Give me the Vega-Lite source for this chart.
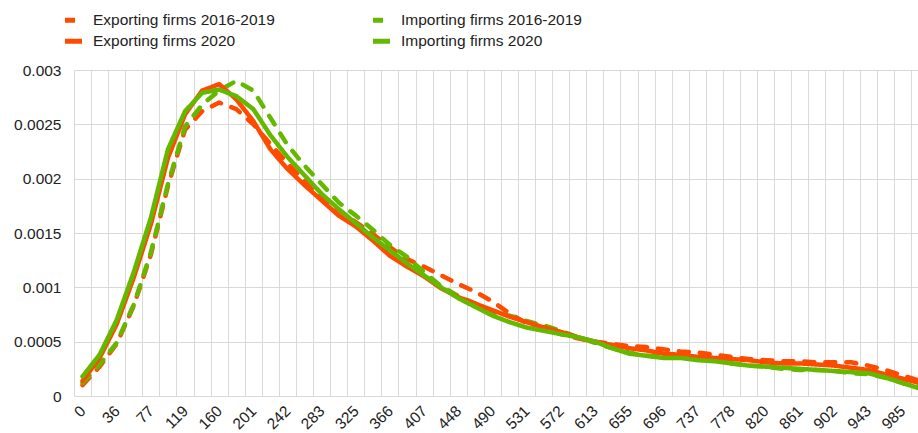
{
  "$schema": "https://vega.github.io/schema/vega-lite/v6.json",
  "autosize": "none",
  "padding": {"left": 74, "top": 70, "right": 0, "bottom": 37},
  "width": 844,
  "height": 326,
  "background": "white",
  "config": {
    "view": {"stroke": null},
    "font": "Liberation Sans",
    "axis": {"labelFont": "Liberation Sans", "labelColor": "#222222", "labelFontSize": 15.5}
  },
  "data": {
    "values": [
      {"k":0,"s":"Exporting firms 2016-2019","v":0.00010},{"k":0,"s":"Importing firms 2016-2019","v":0.00012},{"k":0,"s":"Exporting firms 2020","v":0.00014},{"k":0,"s":"Importing firms 2020","v":0.00018},
      {"k":1,"s":"Exporting firms 2016-2019","v":0.00027},{"k":1,"s":"Importing firms 2016-2019","v":0.00029},{"k":1,"s":"Exporting firms 2020","v":0.00035},{"k":1,"s":"Importing firms 2020","v":0.00038},
      {"k":2,"s":"Exporting firms 2016-2019","v":0.00048},{"k":2,"s":"Importing firms 2016-2019","v":0.00049},{"k":2,"s":"Exporting firms 2020","v":0.00066},{"k":2,"s":"Importing firms 2020","v":0.00070},
      {"k":3,"s":"Exporting firms 2016-2019","v":0.00083},{"k":3,"s":"Importing firms 2016-2019","v":0.00084},{"k":3,"s":"Exporting firms 2020","v":0.00109},{"k":3,"s":"Importing firms 2020","v":0.00114},
      {"k":4,"s":"Exporting firms 2016-2019","v":0.00130},{"k":4,"s":"Importing firms 2016-2019","v":0.00132},{"k":4,"s":"Exporting firms 2020","v":0.00158},{"k":4,"s":"Importing firms 2020","v":0.00164},
      {"k":5,"s":"Exporting firms 2016-2019","v":0.00193},{"k":5,"s":"Importing firms 2016-2019","v":0.00195},{"k":5,"s":"Exporting firms 2020","v":0.00219},{"k":5,"s":"Importing firms 2020","v":0.00227},
      {"k":6,"s":"Exporting firms 2016-2019","v":0.00245},{"k":6,"s":"Importing firms 2016-2019","v":0.00248},{"k":6,"s":"Exporting firms 2020","v":0.00259},{"k":6,"s":"Importing firms 2020","v":0.00262},
      {"k":7,"s":"Exporting firms 2016-2019","v":0.00262},{"k":7,"s":"Importing firms 2016-2019","v":0.00268},{"k":7,"s":"Exporting firms 2020","v":0.00281},{"k":7,"s":"Importing firms 2020","v":0.00279},
      {"k":8,"s":"Exporting firms 2016-2019","v":0.00270},{"k":8,"s":"Importing firms 2016-2019","v":0.00281},{"k":8,"s":"Exporting firms 2020","v":0.00287},{"k":8,"s":"Importing firms 2020","v":0.00282},
      {"k":9,"s":"Exporting firms 2016-2019","v":0.00264},{"k":9,"s":"Importing firms 2016-2019","v":0.00290},{"k":9,"s":"Exporting firms 2020","v":0.00273},{"k":9,"s":"Importing firms 2020","v":0.00276},
      {"k":10,"s":"Exporting firms 2016-2019","v":0.00250},{"k":10,"s":"Importing firms 2016-2019","v":0.00281},{"k":10,"s":"Exporting firms 2020","v":0.00253},{"k":10,"s":"Importing firms 2020","v":0.00264},
      {"k":11,"s":"Exporting firms 2016-2019","v":0.00232},{"k":11,"s":"Importing firms 2016-2019","v":0.00256},{"k":11,"s":"Exporting firms 2020","v":0.00227},{"k":11,"s":"Importing firms 2020","v":0.00240},
      {"k":12,"s":"Exporting firms 2016-2019","v":0.00214},{"k":12,"s":"Importing firms 2016-2019","v":0.00231},{"k":12,"s":"Exporting firms 2020","v":0.00209},{"k":12,"s":"Importing firms 2020","v":0.00220},
      {"k":13,"s":"Exporting firms 2016-2019","v":0.00198},{"k":13,"s":"Importing firms 2016-2019","v":0.00212},{"k":13,"s":"Exporting firms 2020","v":0.00194},{"k":13,"s":"Importing firms 2020","v":0.00203},
      {"k":14,"s":"Exporting firms 2016-2019","v":0.00183},{"k":14,"s":"Importing firms 2016-2019","v":0.00195},{"k":14,"s":"Exporting firms 2020","v":0.00180},{"k":14,"s":"Importing firms 2020","v":0.00186},
      {"k":15,"s":"Exporting firms 2016-2019","v":0.00171},{"k":15,"s":"Importing firms 2016-2019","v":0.00178},{"k":15,"s":"Exporting firms 2020","v":0.00166},{"k":15,"s":"Importing firms 2020","v":0.00172},
      {"k":16,"s":"Exporting firms 2016-2019","v":0.00160},{"k":16,"s":"Importing firms 2016-2019","v":0.00166},{"k":16,"s":"Exporting firms 2020","v":0.00156},{"k":16,"s":"Importing firms 2020","v":0.00159},
      {"k":17,"s":"Exporting firms 2016-2019","v":0.00149},{"k":17,"s":"Importing firms 2016-2019","v":0.00153},{"k":17,"s":"Exporting firms 2020","v":0.00143},{"k":17,"s":"Importing firms 2020","v":0.00146},
      {"k":18,"s":"Exporting firms 2016-2019","v":0.00137},{"k":18,"s":"Importing firms 2016-2019","v":0.00139},{"k":18,"s":"Exporting firms 2020","v":0.00129},{"k":18,"s":"Importing firms 2020","v":0.00134},
      {"k":19,"s":"Exporting firms 2016-2019","v":0.00126},{"k":19,"s":"Importing firms 2016-2019","v":0.00128},{"k":19,"s":"Exporting firms 2020","v":0.00119},{"k":19,"s":"Importing firms 2020","v":0.00122},
      {"k":20,"s":"Exporting firms 2016-2019","v":0.00119},{"k":20,"s":"Importing firms 2016-2019","v":0.00114},{"k":20,"s":"Exporting firms 2020","v":0.00110},{"k":20,"s":"Importing firms 2020","v":0.00111},
      {"k":21,"s":"Exporting firms 2016-2019","v":0.00111},{"k":21,"s":"Importing firms 2016-2019","v":0.00101},{"k":21,"s":"Exporting firms 2020","v":0.00099},{"k":21,"s":"Importing firms 2020","v":0.00100},
      {"k":22,"s":"Exporting firms 2016-2019","v":0.00103},{"k":22,"s":"Importing firms 2016-2019","v":0.00092},{"k":22,"s":"Exporting firms 2020","v":0.00091},{"k":22,"s":"Importing firms 2020","v":0.00090},
      {"k":23,"s":"Exporting firms 2016-2019","v":0.00096},{"k":23,"s":"Importing firms 2016-2019","v":0.00085},{"k":23,"s":"Exporting firms 2020","v":0.00085},{"k":23,"s":"Importing firms 2020","v":0.00082},
      {"k":24,"s":"Exporting firms 2016-2019","v":0.00087},{"k":24,"s":"Importing firms 2016-2019","v":0.00077},{"k":24,"s":"Exporting firms 2020","v":0.00079},{"k":24,"s":"Importing firms 2020","v":0.00074},
      {"k":25,"s":"Exporting firms 2016-2019","v":0.00076},{"k":25,"s":"Importing firms 2016-2019","v":0.00074},{"k":25,"s":"Exporting firms 2020","v":0.00073},{"k":25,"s":"Importing firms 2020","v":0.00068},
      {"k":26,"s":"Exporting firms 2016-2019","v":0.00067},{"k":26,"s":"Importing firms 2016-2019","v":0.00069},{"k":26,"s":"Exporting firms 2020","v":0.00068},{"k":26,"s":"Importing firms 2020","v":0.00063},
      {"k":27,"s":"Exporting firms 2016-2019","v":0.00062},{"k":27,"s":"Importing firms 2016-2019","v":0.00065},{"k":27,"s":"Exporting firms 2020","v":0.00063},{"k":27,"s":"Importing firms 2020","v":0.00060},
      {"k":28,"s":"Exporting firms 2016-2019","v":0.00057},{"k":28,"s":"Importing firms 2016-2019","v":0.00060},{"k":28,"s":"Exporting firms 2020","v":0.00059},{"k":28,"s":"Importing firms 2020","v":0.00057},
      {"k":29,"s":"Exporting firms 2016-2019","v":0.00053},{"k":29,"s":"Importing firms 2016-2019","v":0.00054},{"k":29,"s":"Exporting firms 2020","v":0.00054},{"k":29,"s":"Importing firms 2020","v":0.00054},
      {"k":30,"s":"Exporting firms 2016-2019","v":0.00050},{"k":30,"s":"Importing firms 2016-2019","v":0.00049},{"k":30,"s":"Exporting firms 2020","v":0.00050},{"k":30,"s":"Importing firms 2020","v":0.00050},
      {"k":31,"s":"Exporting firms 2016-2019","v":0.00048},{"k":31,"s":"Importing firms 2016-2019","v":0.00044},{"k":31,"s":"Exporting firms 2020","v":0.00047},{"k":31,"s":"Importing firms 2020","v":0.00044},
      {"k":32,"s":"Exporting firms 2016-2019","v":0.00046},{"k":32,"s":"Importing firms 2016-2019","v":0.00040},{"k":32,"s":"Exporting firms 2020","v":0.00044},{"k":32,"s":"Importing firms 2020","v":0.00039},
      {"k":33,"s":"Exporting firms 2016-2019","v":0.00045},{"k":33,"s":"Importing firms 2016-2019","v":0.00037},{"k":33,"s":"Exporting firms 2020","v":0.00042},{"k":33,"s":"Importing firms 2020","v":0.00037},
      {"k":34,"s":"Exporting firms 2016-2019","v":0.00043},{"k":34,"s":"Importing firms 2016-2019","v":0.00036},{"k":34,"s":"Exporting firms 2020","v":0.00039},{"k":34,"s":"Importing firms 2020","v":0.00035},
      {"k":35,"s":"Exporting firms 2016-2019","v":0.00041},{"k":35,"s":"Importing firms 2016-2019","v":0.00035},{"k":35,"s":"Exporting firms 2020","v":0.00038},{"k":35,"s":"Importing firms 2020","v":0.00035},
      {"k":36,"s":"Exporting firms 2016-2019","v":0.00040},{"k":36,"s":"Importing firms 2016-2019","v":0.00034},{"k":36,"s":"Exporting firms 2020","v":0.00036},{"k":36,"s":"Importing firms 2020","v":0.00033},
      {"k":37,"s":"Exporting firms 2016-2019","v":0.00038},{"k":37,"s":"Importing firms 2016-2019","v":0.00033},{"k":37,"s":"Exporting firms 2020","v":0.00035},{"k":37,"s":"Importing firms 2020","v":0.00032},
      {"k":38,"s":"Exporting firms 2016-2019","v":0.00036},{"k":38,"s":"Importing firms 2016-2019","v":0.00030},{"k":38,"s":"Exporting firms 2020","v":0.00034},{"k":38,"s":"Importing firms 2020","v":0.00030},
      {"k":39,"s":"Exporting firms 2016-2019","v":0.00034},{"k":39,"s":"Importing firms 2016-2019","v":0.00028},{"k":39,"s":"Exporting firms 2020","v":0.00033},{"k":39,"s":"Importing firms 2020","v":0.00028},
      {"k":40,"s":"Exporting firms 2016-2019","v":0.00033},{"k":40,"s":"Importing firms 2016-2019","v":0.00027},{"k":40,"s":"Exporting firms 2020","v":0.00031},{"k":40,"s":"Importing firms 2020","v":0.00027},
      {"k":41,"s":"Exporting firms 2016-2019","v":0.00032},{"k":41,"s":"Importing firms 2016-2019","v":0.00025},{"k":41,"s":"Exporting firms 2020","v":0.00030},{"k":41,"s":"Importing firms 2020","v":0.00026},
      {"k":42,"s":"Exporting firms 2016-2019","v":0.00032},{"k":42,"s":"Importing firms 2016-2019","v":0.00024},{"k":42,"s":"Exporting firms 2020","v":0.00030},{"k":42,"s":"Importing firms 2020","v":0.00025},
      {"k":43,"s":"Exporting firms 2016-2019","v":0.00031},{"k":43,"s":"Importing firms 2016-2019","v":0.00024},{"k":43,"s":"Exporting firms 2020","v":0.00029},{"k":43,"s":"Importing firms 2020","v":0.00024},
      {"k":44,"s":"Exporting firms 2016-2019","v":0.00031},{"k":44,"s":"Importing firms 2016-2019","v":0.00023},{"k":44,"s":"Exporting firms 2020","v":0.00028},{"k":44,"s":"Importing firms 2020","v":0.00023},
      {"k":45,"s":"Exporting firms 2016-2019","v":0.00031},{"k":45,"s":"Importing firms 2016-2019","v":0.00021},{"k":45,"s":"Exporting firms 2020","v":0.00026},{"k":45,"s":"Importing firms 2020","v":0.00022},
      {"k":46,"s":"Exporting firms 2016-2019","v":0.00028},{"k":46,"s":"Importing firms 2016-2019","v":0.00020},{"k":46,"s":"Exporting firms 2020","v":0.00024},{"k":46,"s":"Importing firms 2020","v":0.00021},
      {"k":47,"s":"Exporting firms 2016-2019","v":0.00024},{"k":47,"s":"Importing firms 2016-2019","v":0.00017},{"k":47,"s":"Exporting firms 2020","v":0.00020},{"k":47,"s":"Importing firms 2020","v":0.00017},
      {"k":48,"s":"Exporting firms 2016-2019","v":0.00019},{"k":48,"s":"Importing firms 2016-2019","v":0.00012},{"k":48,"s":"Exporting firms 2020","v":0.00016},{"k":48,"s":"Importing firms 2020","v":0.00012},
      {"k":49,"s":"Exporting firms 2016-2019","v":0.00014},{"k":49,"s":"Importing firms 2016-2019","v":0.00008},{"k":49,"s":"Exporting firms 2020","v":0.00012},{"k":49,"s":"Importing firms 2020","v":0.00007}
    ]
  },
  "mark": {"type": "line", "clip": true, "strokeWidth": 4.5, "strokeCap": "round", "strokeJoin": "round"},
  "encoding": {
    "x": {
      "field": "k",
      "type": "quantitative",
      "scale": {"domain": [-0.5, 48.92], "nice": false, "zero": false},
      "axis": {
        "title": null,
        "domain": false,
        "ticks": false,
        "values": [-0.5,0,0.5,1.5,2,2.5,3.5,4,4.5,5.5,6,6.5,7.5,8,8.5,9.5,10,10.5,11.5,12,12.5,13.5,14,14.5,15.5,16,16.5,17.5,18,18.5,19.5,20,20.5,21.5,22,22.5,23.5,24,24.5,25.5,26,26.5,27.5,28,28.5,29.5,30,30.5,31.5,32,32.5,33.5,34,34.5,35.5,36,36.5,37.5,38,38.5,39.5,40,40.5,41.5,42,42.5,43.5,44,44.5,45.5,46,46.5,47.5,48,48.5],
        "labelExpr": "datum.value % 2 === 0 ? ['0','36','77','119','160','201','242','283','325','366','407','448','490','531','572','613','655','696','737','778','820','861','902','943','985'][datum.value / 2] : ''",
        "labelAngle": -45,
        "labelAlign": "right",
        "labelBaseline": "middle",
        "labelPadding": 12,
        "labelOverlap": false,
        "labelFlush": false,
        "labelBound": false,
        "grid": true,
        "gridColor": {"condition": {"test": "datum.value % 1 !== 0", "value": "#d9d9d9"}, "value": "rgba(0,0,0,0)"},
        "gridWidth": 1
      }
    },
    "y": {
      "field": "v",
      "type": "quantitative",
      "scale": {"domain": [0, 0.003], "nice": false},
      "axis": {
        "title": null,
        "domain": false,
        "ticks": false,
        "values": [0, 0.0005, 0.001, 0.0015, 0.002, 0.0025, 0.003],
        "format": "~g",
        "labelPadding": 13,
        "grid": true,
        "gridColor": "#d9d9d9",
        "gridWidth": 1
      }
    },
    "color": {
      "field": "s",
      "type": "nominal",
      "scale": {
        "domain": ["Exporting firms 2016-2019", "Exporting firms 2020", "Importing firms 2016-2019", "Importing firms 2020"],
        "range": ["#ff4b00", "#ff4b00", "#65b800", "#65b800"]
      },
      "legend": {
        "title": null,
        "orient": "none",
        "legendX": -11.5,
        "legendY": -60.75,
        "columns": 2,
        "columnPadding": 87,
        "rowPadding": -1,
        "padding": 0,
        "symbolType": "stroke",
        "symbolSize": 289,
        "symbolStrokeWidth": 5,
        "labelFont": "Liberation Sans",
        "labelFontSize": 15.5,
        "labelColor": "#222222",
        "labelOffset": 8.5,
        "labelLimit": 400,
        "encode": {
          "symbols": {
            "update": {
              "strokeDash": {"signal": "indexof(datum.value, '2016') >= 0 ? [6, 4] : [1, 0]"}
            }
          }
        }
      }
    },
    "strokeDash": {
      "field": "s",
      "type": "nominal",
      "scale": {
        "domain": ["Exporting firms 2016-2019", "Exporting firms 2020", "Importing firms 2016-2019", "Importing firms 2020"],
        "range": [[10, 11], [1, 0], [10, 11], [1, 0]]
      },
      "legend": null
    }
  }
}
